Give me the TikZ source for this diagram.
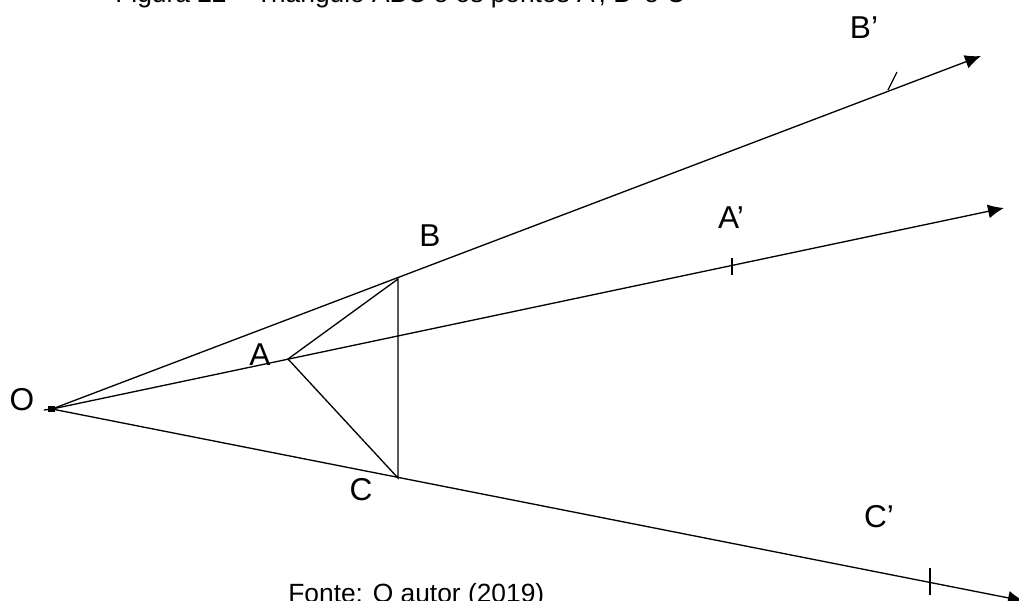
\documentclass[tikz,border=0pt]{standalone}
\usepackage{fontspec}
\setmainfont{Liberation Sans}
\usepackage{tikz}
\usetikzlibrary{arrows.meta}
\tikzset{
  lbl/.style={inner sep=0pt,font=\fontsize{18}{21}\selectfont},
  captxt/.style={inner sep=0pt,font=\fontsize{15}{18}\selectfont},
  ray/.style={line width=0.75pt,-{Latex[length=0.32cm,width=0.28cm]}},
  side/.style={line width=0.75pt}
}

\begin{document}
\begin{tikzpicture}[x=0.02cm,y=-0.02cm]
    \useasboundingbox (0,0) rectangle (1019,600);
    \coordinate (O) at (52,409);
    \coordinate (A) at (288,359);
    \coordinate (B) at (398,279);
    \coordinate (C) at (398,478);
    \coordinate (Bend) at (981,56);
    \coordinate (Aend) at (1004,208);
    \coordinate (Cend) at (1024,601);
    % rays from O
    \draw[ray] (O) -- (Bend);
    \draw[ray] (O) -- (Aend);
    \draw[ray] (O) -- (Cend);
    % triangle
    \draw[side] (A) -- (B) -- (C) -- cycle;
    \fill (48,406) rectangle (55,412);
    \draw[side] (44,410) -- (O);
    % marks of the images
    \draw[side] (888,90) -- (897,72);
    \draw[side] (732,258) -- (732,275);
    \draw[side] (930,568) -- (930,595);
    % labels
    \node[lbl] (lO) at (22,400) {O};
    \node[lbl] (lA) at (260,355) {A};
    \node[lbl] (lB) at (430,236) {B};
    \node[lbl] (lC) at (361,490) {C};
    \node[lbl] (lA2) at (731,218) {A’};
    \node[lbl] (lB2) at (864,28) {B’};
    \node[lbl] (lC2) at (879,517) {C’};
    \node[captxt,anchor=base west] (title) at (115,2) {Figura 22 – Triângulo ABC e os pontos A’, B’ e C’};
    \node[captxt,anchor=base west] (fonte) at (288,602) {Fonte: O autor (2019)};
  \end{tikzpicture}
\end{document}
